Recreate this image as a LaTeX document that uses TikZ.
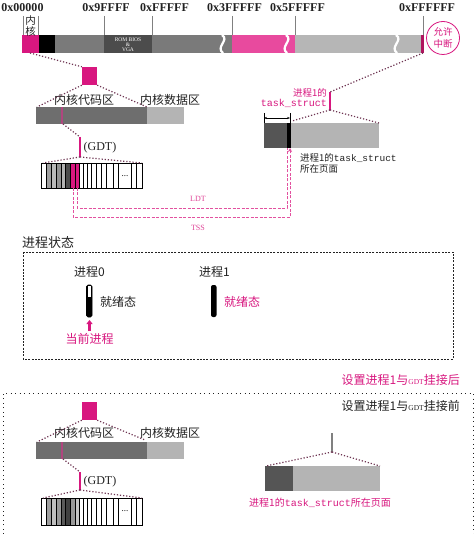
\documentclass[tikz,border=0pt]{standalone}
\usepackage{fontspec}
\setmainfont{Liberation Serif}
\setmonofont{Liberation Mono}
\newfontfamily\cjk{Noto Sans CJK SC}
\usetikzlibrary{arrows.meta}
\definecolor{mag}{HTML}{D8177F}
\definecolor{lpink}{HTML}{E84A9E}
\definecolor{dpink}{HTML}{B0145E}
\definecolor{dotc}{HTML}{6E3452}
\definecolor{gA}{HTML}{7A7A7A}
\definecolor{gB}{HTML}{4C4C4C}
\definecolor{gC}{HTML}{B6B6B6}
\definecolor{gD}{HTML}{6E6E6E}
\definecolor{gE}{HTML}{B4B4B4}
\definecolor{gF}{HTML}{555555}
\definecolor{txt}{HTML}{222222}
\begin{document}
\begin{tikzpicture}[x=1pt,y=-1pt,
  hexlbl/.style={font=\fontsize{12}{12}\selectfont\bfseries, inner sep=0pt, text=txt},
  cjklbl/.style={font=\fontsize{12}{12}\selectfont\cjk, inner sep=0pt, text=txt},
  smallcjk/.style={font=\fontsize{9.5}{11}\selectfont\cjk, inner sep=0pt},
  dotline/.style={dotc, line width=1.2pt, dash pattern=on 1.2pt off 1.9pt},
  tickline/.style={gray, line width=0.5pt},
  pinktick/.style={mag, line width=1.2pt},
  pdash/.style={mag!75!white, line width=0.9pt, dash pattern=on 3pt off 1.5pt},
  wave/.style={white, line width=2.2pt},
  cellbox/.style={draw=black, line width=0.5pt},
]
\useasboundingbox (0,0) rectangle (474,534);
\fill[white] (0,0) rectangle (474,534);

% ---------- top memory bar ----------
\fill[mag] (22,35) rectangle (39,53);
\fill[black] (39,35) rectangle (55,53);
\fill[gA] (55,35) rectangle (104,53);
\fill[gB] (104,35) rectangle (152,53);
\fill[gA] (152,35) rectangle (232,53);
\fill[lpink] (232,35) rectangle (295,53);
\fill[gC] (295,35) rectangle (421,53);
\fill[dpink] (421,35) rectangle (424,53);
\draw[wave] (222,35) .. controls (230,40) and (215,47) .. (223,53);
\draw[wave] (286,35) .. controls (294,40) and (279,47) .. (287,53);
\draw[wave] (396,35) .. controls (404,40) and (389,47) .. (397,53);

\foreach \xx in {23,38,104,152,232,295,423} \draw[tickline] (\xx,16) -- (\xx,35);

\node[hexlbl] (h0) at (22.5,7.5) {0x00000};
\node[hexlbl] (h1) at (106,7.5) {0x9FFFF};
\node[hexlbl] (h2) at (164.5,7.5) {0xFFFFF};
\node[hexlbl] (h3) at (234.5,7.5) {0x3FFFFF};
\node[hexlbl] (h4) at (297.5,7.5) {0x5FFFFF};
\node[hexlbl] (h5) at (427,7.5) {0xFFFFFF};
\node[font=\fontsize{10.5}{11.5}\selectfont\cjk, align=center, inner sep=0pt, text=txt] (kn) at (30.5,26) {内\\核};
\node[font=\fontsize{5.5}{5.2}\selectfont, text=white, align=center, inner sep=0pt] (rom) at (128,45) {ROM BIOS\\\&\\VGA};
\node[circle, draw=mag, line width=0.8pt, minimum size=33pt, inner sep=0pt, align=center, text=mag,
      font=\fontsize{9.5}{12}\selectfont\cjk] (intr) at (443,38) {允许\\中断};

\coordinate (kseg) at (30,53);
\coordinate (barend) at (423,53);

% ---------- upper kernel zoom ----------
\node[fill=mag, minimum width=15pt, minimum height=18pt, inner sep=0pt] (sq1) at (89.5,76) {};
\draw[dotline] (kseg) -- (sq1.north west);
\node[cjklbl] (kc1) at (84,100) {内核代码区};
\node[cjklbl] (kd1) at (170,100) {内核数据区};
\fill[gD] (36,107) rectangle (147,124);
\fill[gE] (147,107) rectangle (184,124);
\draw[mag!55!gray, line width=1.3pt] (62,107) -- (62,124);
\coordinate (b1l) at (37,107);
\coordinate (b1m) at (147,107);
\coordinate (b1p) at (63,124);
\draw[dotline] (sq1.south west) -- (b1l);
\draw[dotline] (sq1.south east) -- (b1m);
\draw[pinktick] (80,137) -- (80,157);
\coordinate (g1t) at (80,137);
\coordinate (g1b) at (80,157);
\draw[dotline] (b1p) -- (g1t);
\node[font=\fontsize{12}{12}\selectfont, inner sep=0pt, text=txt] (gdt1) at (100,148) {(GDT)};

% GDT table upper
\fill[gray!75] (46,163) rectangle (51.7,188);
\fill[gray!55] (51.7,163) rectangle (56.7,188);
\fill[gray!85] (56.7,163) rectangle (61,188);
\fill[gray!140!black] (61,163) rectangle (65.7,188);
\fill[black!70] (65.7,163) rectangle (70.7,188);
\fill[mag] (70.7,163) rectangle (79,188);
\draw[cellbox] (41.7,163) rectangle (142.7,188);
\foreach \xx in {46,51.7,56.7,61,65.7,70.7,75,79,83.3,87.3,91.7,96.7,101.7,106.7,113.3,118.3,131.7,136.7}
  \draw[cellbox] (\xx,163) -- (\xx,188);
\node[font=\fontsize{9}{9}\selectfont, inner sep=0pt] (dots1) at (125,176) {...};
\coordinate (t1l) at (43,163);
\coordinate (t1r) at (142,163);
\draw[dotline] (g1b) -- (t1l);
\draw[dotline] (g1b) -- (t1r);

% ---------- task_struct upper ----------
\fill[gF] (264,123) rectangle (287,148);
\fill[black] (287,123) rectangle (291,148);
\fill[gE] (291,123) rectangle (379,148);
\draw[black, line width=0.6pt] (264,113) -- (264,123) (290,113) -- (290,123);
\draw[black, line width=0.6pt, {Stealth[length=3pt]}-{Stealth[length=3pt]}] (264,118) -- (290,118);
\node[smallcjk, text=mag, anchor=east] (p1de) at (327,93) {进程1的};
\node[font=\fontsize{10}{10}\selectfont\ttfamily, inner sep=0pt, text=mag, anchor=east] (p1ts) at (327,103) {task\_struct};
\draw[pinktick] (330,92) -- (330,110);
\coordinate (pt1t) at (330,92);
\coordinate (pt1b) at (330,110);
\coordinate (ts1l) at (292,121);
\coordinate (ts1r) at (379,123);
\draw[dotline] (barend) -- (pt1t);
\draw[dotline] (pt1b) -- (ts1l);
\draw[dotline] (pt1b) -- (ts1r);
\node[smallcjk, text=txt, anchor=west, align=left] (tsl1) at (300,163) {进程1的{\ttfamily task\_struct}\\所在页面};

% LDT / TSS dashed
\coordinate (ldt0) at (77,188);
\coordinate (ldt1) at (287,148);
\coordinate (tss0) at (73,188);
\coordinate (tss1) at (290,148);
\draw[pdash] (ldt0) |- (287,208) -- (ldt1);
\draw[pdash, -{Stealth[length=4pt,width=4pt]}] (tss0) |- (290,217.5) -- (tss1);
\node[font=\fontsize{8}{8}\selectfont, text=mag!80!white, inner sep=0pt] (ldtl) at (198,199) {LDT};
\node[font=\fontsize{8}{8}\selectfont, text=mag!80!white, inner sep=0pt] (tssl) at (198,228) {TSS};

% ---------- process state ----------
\node[font=\fontsize{13}{13}\selectfont\cjk, inner sep=0pt, anchor=west, text=txt] (pst) at (22,243) {进程状态};
\draw[txt, line width=0.8pt, dash pattern=on 2pt off 1.3pt] (23,252) rectangle (453,359);
\node[cjklbl, anchor=west] (p0) at (74,272) {进程0};
\node[cjklbl, anchor=west] (p1) at (199,272) {进程1};
\draw[black, fill=black, line width=0.6pt, rounded corners=1.5pt] (86.5,285) rectangle (92,317);
\fill[white] (87.5,286) rectangle (91,297);
\fill[black, rounded corners=2pt] (211,285) rectangle (216.5,317);
\node[cjklbl, anchor=west] (r0) at (100,302) {就绪态};
\node[cjklbl, anchor=west, text=mag] (r1) at (224,302) {就绪态};
\coordinate (arb) at (89.5,331);
\coordinate (art) at (89.5,320);
\draw[mag, line width=2.2pt, -{Triangle[length=4pt,width=6pt]}] (arb) -- (art);
\node[cjklbl, text=mag] (cur) at (89.5,339) {当前进程};

\node[cjklbl, text=mag, anchor=east] (after) at (460,380) {设置进程1与{\rmfamily\fontsize{7.5}{8}\selectfont GDT}挂接后};

% ---------- lower dotted frame ----------
\draw[txt, line width=1pt, dash pattern=on 1pt off 3.5pt] (3,534) -- (3,393) -- (473,393) -- (473,534);
\node[cjklbl, anchor=east] (before) at (460,406) {设置进程1与{\rmfamily\fontsize{7.5}{8}\selectfont GDT}挂接前};

% lower kernel
\node[fill=mag, minimum width=15pt, minimum height=18pt, inner sep=0pt] (sq2) at (89.5,411) {};
\node[cjklbl] (kc2) at (84,433) {内核代码区};
\node[cjklbl] (kd2) at (170,433) {内核数据区};
\fill[gD] (36,442) rectangle (147,459);
\fill[gE] (147,442) rectangle (184,459);
\draw[mag!55!gray, line width=1.3pt] (62,442) -- (62,459);
\coordinate (b2l) at (37,442);
\coordinate (b2m) at (145,440);
\coordinate (b2p) at (63,459);
\draw[dotline] (sq2.south west) -- (b2l);
\draw[dotline] (sq2.south east) -- (b2m);
\draw[pinktick] (80,472) -- (80,490);
\coordinate (g2t) at (80,472);
\coordinate (g2b) at (80,490);
\draw[dotline] (b2p) -- (g2t);
\node[font=\fontsize{12}{12}\selectfont, inner sep=0pt, text=txt] (gdt2) at (100,482) {(GDT)};

\fill[gray!75] (46,498) rectangle (51.7,525);
\fill[gray!50] (51.7,498) rectangle (56.7,525);
\fill[gray!80] (56.7,498) rectangle (61,525);
\fill[black!65] (61,498) rectangle (65.7,525);
\fill[black!75] (65.7,498) rectangle (70.7,525);
\fill[gray!80] (70.7,498) rectangle (75,525);
\fill[gray!45] (75,498) rectangle (79,525);
\draw[cellbox] (41.7,498) rectangle (142.7,525);
\foreach \xx in {46,51.7,56.7,61,65.7,70.7,75,79,83.3,87.3,91.7,96.7,101.7,106.7,113.3,118.3,131.7,136.7}
  \draw[cellbox] (\xx,498) -- (\xx,525);
\node[font=\fontsize{9}{9}\selectfont, inner sep=0pt] (dots2) at (125,511) {...};
\coordinate (t2l) at (43,498);
\coordinate (t2r) at (142,498);
\draw[dotline] (g2b) -- (t2l);
\draw[dotline] (g2b) -- (t2r);

% lower task_struct page
\fill[gF] (265,466) rectangle (293,491);
\fill[gE] (293,466) rectangle (380,491);
\draw[gray, line width=1.2pt] (332,433) -- (332,452);
\coordinate (pt2b) at (332,452);
\coordinate (ts2l) at (266,466);
\coordinate (ts2r) at (380,466);
\draw[dotline] (pt2b) -- (ts2l);
\draw[dotline] (pt2b) -- (ts2r);
\node[font=\fontsize{10}{10}\selectfont\cjk, inner sep=0pt, text=mag] (tsl2) at (320,503) {进程1的{\ttfamily task\_struct}所在页面};
\end{tikzpicture}
\end{document}
